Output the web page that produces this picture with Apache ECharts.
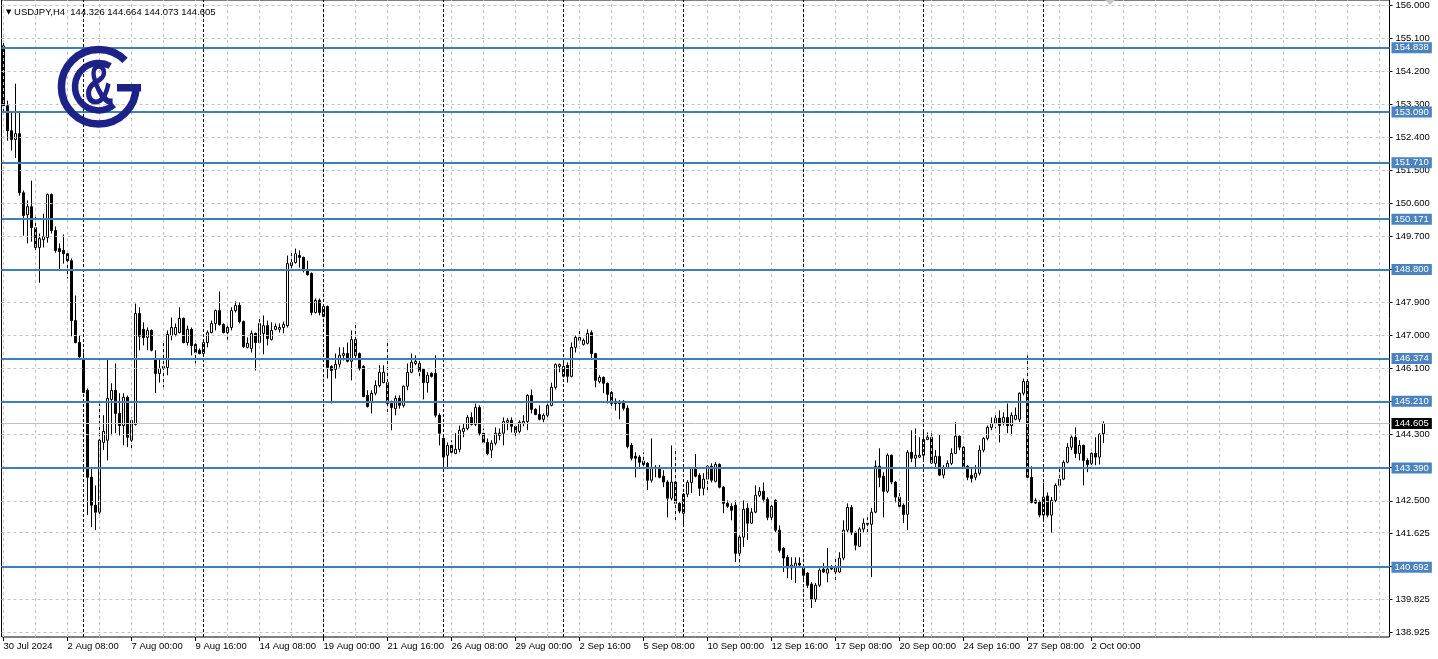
<!DOCTYPE html>
<html><head><meta charset="utf-8">
<script src="https://cdn.jsdelivr.net/npm/echarts@6/dist/echarts.min.js"></script>
<style>html,body{margin:0;padding:0;background:#fff}#c{width:1438px;height:659px}</style>
</head><body><div id="c"></div>
<script>
const SYMBOL = 'USDJPY,H4';
const X_TICK_LABELS = ['30 Jul 2024','2 Aug 08:00','7 Aug 00:00','9 Aug 16:00','14 Aug 08:00','19 Aug 00:00','21 Aug 16:00','26 Aug 08:00','29 Aug 00:00','2 Sep 16:00','5 Sep 08:00','10 Sep 00:00','12 Sep 16:00','17 Sep 08:00','20 Sep 00:00','24 Sep 16:00','27 Sep 08:00','2 Oct 00:00'];
const Y_TICK_LABELS = ['156.000','155.100','154.200','153.300','152.400','151.500','150.600','149.700','148.800','147.900','147.000','146.100','145.200','144.300','143.400','142.500','141.625','140.725','139.825','138.925'];
const LEVELS = [154.838, 153.090, 151.710, 150.171, 148.800, 146.374, 145.210, 143.390, 140.692];
const WEEK_START_BARS = [20, 50, 80, 110, 140, 170, 200, 230, 260];

const OPEN = [154.89,153.26,152.58,152.34,152.50,150.89,150.29,150.51,149.94,149.40,149.61,149.67,150.84,149.86,149.37,149.32,149.23,149.04,147.41,146.81,
146.38,145.51,143.14,142.38,142.19,144.09,144.15,145.26,145.51,144.88,144.55,145.32,144.15,144.58,147.60,147.17,146.95,147.14,146.38,145.97,
146.11,146.13,147.00,147.03,147.08,147.47,146.81,147.17,146.76,146.60,146.51,146.81,147.08,147.33,147.68,147.30,147.08,147.22,147.68,147.82,
147.38,146.68,146.65,147.06,146.81,147.06,147.27,146.89,147.17,147.17,147.22,147.27,148.91,148.99,149.18,149.13,148.80,148.69,147.63,147.96,
147.52,147.79,146.16,146.08,146.22,146.46,146.51,146.30,146.89,146.51,146.16,145.37,145.18,145.43,145.64,145.72,145.72,145.15,145.01,145.29,
145.10,145.62,146.00,146.24,146.24,146.08,145.72,145.97,145.97,144.83,144.20,143.74,144.01,143.79,143.90,144.39,144.47,144.77,144.58,145.04,
144.34,144.09,143.88,144.07,144.28,144.34,144.64,144.69,144.53,144.39,144.61,144.66,145.37,144.99,144.85,144.72,144.83,145.10,145.59,146.16,
145.89,146.19,145.89,146.68,146.87,146.76,146.79,147.08,146.51,145.75,145.86,145.70,145.45,145.21,145.21,145.21,145.02,144.01,143.71,143.69,
143.58,143.52,143.06,143.41,143.41,143.17,143.01,142.57,143.01,142.43,142.16,142.68,143.00,143.39,143.19,142.84,143.09,143.44,143.03,143.49,
142.87,142.43,142.35,142.38,141.07,141.51,142.30,141.89,142.19,142.65,142.76,142.54,142.05,142.51,141.70,141.21,140.96,140.67,140.69,140.80,
140.69,140.53,140.23,139.82,140.20,140.64,140.53,140.66,140.56,140.56,140.94,141.70,142.32,141.64,141.26,141.73,141.86,141.86,142.19,143.44,
143.17,142.76,143.74,143.01,142.60,142.38,142.13,143.82,143.66,143.69,143.74,144.17,144.23,143.52,143.71,143.20,143.39,143.52,143.79,144.26,
143.96,143.44,143.19,143.14,143.25,143.88,144.20,144.50,144.61,144.75,144.64,144.77,144.55,144.72,144.72,145.43,145.75,143.14,142.51,142.46,
142.11,142.63,142.11,142.51,142.92,143.09,143.55,143.96,144.23,143.79,144.01,143.60,143.52,143.79,143.69,144.326];
const HIGH = [154.97,153.40,153.07,153.86,153.12,150.95,150.68,151.22,150.27,149.78,150.32,150.87,150.87,149.97,149.51,149.75,149.29,149.10,148.09,147.00,
146.54,145.56,143.41,142.92,145.15,144.83,146.38,145.70,146.24,145.43,145.43,145.37,144.77,147.87,147.77,147.36,147.22,147.17,146.60,146.38,
146.87,147.14,147.49,147.33,147.77,147.49,147.27,147.22,146.79,146.65,146.87,147.14,147.41,147.71,148.20,147.33,147.27,147.77,147.93,147.90,
147.41,146.95,147.14,147.08,147.47,147.55,147.41,147.36,147.33,147.33,147.38,149.18,149.32,149.37,149.32,149.15,149.04,148.72,148.01,148.01,
147.82,147.82,146.19,146.51,146.68,146.68,146.81,147.14,147.30,146.54,146.19,145.51,145.51,145.78,146.19,146.19,146.89,145.23,145.37,145.37,
145.64,146.24,146.51,146.46,146.32,146.11,146.00,146.00,146.46,144.88,144.23,144.09,144.15,144.34,144.55,144.61,144.83,144.91,145.15,145.10,
144.47,144.20,144.15,144.50,144.47,144.77,144.75,144.77,144.55,144.69,144.83,145.40,145.53,145.02,145.10,144.88,145.15,145.72,146.24,146.24,
146.32,146.27,146.81,147.00,147.14,146.92,147.17,147.14,146.53,145.92,145.89,145.72,145.51,145.29,145.24,145.24,145.10,144.07,143.82,143.74,
143.82,143.55,144.20,143.47,143.47,143.33,143.06,144.01,143.93,142.46,142.71,143.06,143.41,143.77,143.25,143.25,143.47,143.52,143.55,143.52,
142.90,142.51,142.43,142.51,141.56,142.51,142.43,142.30,142.92,142.87,143.00,142.60,142.46,142.54,141.83,141.24,141.02,140.96,140.96,140.96,
140.75,140.56,140.28,140.26,140.66,140.80,141.21,140.75,140.96,141.10,141.97,142.43,142.38,141.67,141.78,142.02,142.05,142.30,143.60,143.93,
143.28,143.79,143.76,143.03,142.79,142.43,143.88,144.42,144.47,144.23,144.42,144.36,144.34,143.88,144.31,143.47,143.60,143.93,144.64,144.28,
143.98,143.47,143.39,143.47,144.01,144.23,144.55,144.77,144.83,144.96,144.91,145.15,144.91,145.04,145.45,145.83,146.46,143.44,142.57,142.51,
143.00,142.73,142.60,142.97,143.41,143.60,144.07,144.28,144.50,144.15,144.03,143.66,143.82,144.23,144.34,144.664];
const LOW = [153.07,152.31,152.04,151.84,150.81,149.72,149.51,149.56,149.26,148.44,149.40,149.53,149.78,149.26,148.80,148.96,148.55,146.98,146.79,146.38,
145.43,142.11,141.78,141.70,142.05,143.88,143.60,144.28,144.34,144.28,144.01,143.96,143.93,144.55,146.60,146.73,146.60,146.57,145.43,145.72,
145.59,145.92,146.87,146.98,147.06,146.79,146.73,146.46,146.24,146.49,146.49,146.68,147.06,147.14,147.27,147.06,146.89,147.14,147.63,147.33,
146.66,146.65,146.54,146.05,146.79,146.49,146.73,146.87,147.14,147.08,147.06,147.22,148.77,148.96,148.85,148.72,148.63,147.55,147.60,147.55,
147.47,145.83,145.15,145.83,146.13,146.32,146.27,145.78,146.38,146.05,145.32,145.04,144.88,145.37,145.59,145.70,144.88,144.42,144.83,145.01,
145.04,145.51,145.97,146.19,145.86,145.26,145.45,145.86,144.77,144.01,143.39,143.39,143.79,143.77,143.82,144.23,144.42,144.55,144.53,144.28,
144.07,143.74,143.66,144.01,144.15,144.01,144.42,144.36,144.23,144.34,144.53,144.42,144.88,144.83,144.69,144.64,144.77,145.07,145.53,146.00,
145.86,145.72,145.86,146.54,146.79,146.73,146.76,146.38,145.59,145.70,145.43,145.15,145.04,144.96,144.72,144.96,143.93,143.60,143.14,143.41,
143.41,142.79,143.00,143.14,143.11,142.87,142.05,142.51,141.92,142.16,141.78,142.60,142.71,143.14,142.63,142.65,142.79,143.00,143.00,142.84,
142.16,142.30,141.97,140.83,140.69,141.24,141.43,141.87,142.16,142.60,142.46,141.97,141.92,141.64,141.09,140.56,140.39,140.34,140.26,140.67,
140.34,140.12,139.58,139.74,140.15,140.53,140.28,140.61,140.28,140.53,140.88,141.64,141.57,141.15,141.24,141.64,141.64,140.42,142.16,142.87,
142.05,142.71,142.95,142.46,142.32,141.89,141.70,143.55,143.41,143.66,143.60,144.15,143.50,143.41,143.17,143.11,143.36,143.47,143.77,143.88,
143.39,143.06,143.00,143.06,143.19,143.82,144.15,144.42,144.47,144.09,144.55,144.34,144.28,144.69,144.64,145.37,143.06,142.43,142.41,142.05,
141.97,142.05,141.62,142.46,142.87,143.06,143.52,143.88,143.66,143.60,142.92,143.28,143.47,143.47,143.49,144.073];
const CLOSE = [153.26,152.58,152.34,152.50,150.89,150.27,150.51,149.94,149.40,149.64,149.70,150.84,149.86,149.32,149.29,149.23,149.04,147.41,146.81,146.43,
145.45,143.14,142.38,142.19,144.15,144.39,145.29,145.51,144.88,144.55,145.32,144.23,144.69,147.60,146.98,146.95,147.14,146.60,145.97,146.11,
146.16,147.03,147.22,147.22,147.47,146.81,147.17,146.73,146.54,146.51,146.81,147.08,147.33,147.68,147.30,147.08,147.22,147.68,147.82,147.38,
146.70,146.79,147.06,146.81,147.33,147.27,146.92,147.14,147.25,147.22,147.30,148.96,148.99,149.23,149.13,148.80,148.66,147.63,147.96,147.63,
147.79,146.13,146.05,146.22,146.46,146.51,146.30,146.89,146.46,146.11,145.34,145.07,145.43,145.64,146.00,146.00,145.15,145.04,145.29,145.10,
145.62,146.00,146.27,146.30,146.02,145.72,145.92,145.89,144.83,144.34,143.69,144.01,143.82,143.90,144.42,144.47,144.77,144.58,145.04,144.34,
144.09,143.79,144.07,144.34,144.34,144.66,144.69,144.53,144.36,144.64,144.66,145.37,144.99,144.85,144.72,144.83,145.10,145.59,146.21,146.21,
146.16,145.89,146.68,146.95,146.95,146.87,147.06,146.51,145.78,145.86,145.70,145.40,145.15,145.15,145.15,145.02,143.98,143.66,143.66,143.55,
143.49,143.06,143.41,143.39,143.14,143.01,142.57,143.01,142.43,142.22,142.68,143.00,143.39,143.17,142.84,143.09,143.44,143.06,143.49,142.87,
142.43,142.35,142.24,141.07,141.51,142.27,141.89,142.19,142.65,142.76,142.54,142.05,142.35,141.70,141.15,140.94,140.67,140.75,140.80,140.75,
140.47,140.20,139.82,140.20,140.61,140.56,140.64,140.64,140.69,140.94,141.70,142.32,141.64,141.29,141.73,141.89,141.89,142.19,143.44,143.14,
142.76,143.74,143.01,142.60,142.35,142.13,143.82,143.66,143.74,143.74,144.17,144.23,143.53,143.71,143.20,143.39,143.52,143.79,144.26,143.96,
143.41,143.14,143.11,143.25,143.88,144.20,144.50,144.61,144.75,144.55,144.77,144.55,144.83,144.83,145.43,145.75,143.14,142.46,142.44,142.11,
142.60,142.11,142.51,142.92,143.09,143.55,143.96,144.23,143.79,144.01,143.60,143.49,143.79,143.69,144.31,144.605];

const TOTAL_SLOTS = 347;
const BARS_PER_LABEL = 16;
const BARS_PER_GRID = 8;
const FONT = '"Liberation Sans", Arial, sans-serif';
const FS = 9.5;
const NAVY = '#1c2287';
const LEVEL_BLUE = '#3d7ebd';

const cats = Array.from({length: TOTAL_SLOTS}, (_, i) => String(i));
const candles = OPEN.map((o, i) => [o, CLOSE[i], LOW[i], HIGH[i]]);
const last = OPEN.length - 1;
const yTickValues = Y_TICK_LABELS.map(Number);
const labelAt = i => i % BARS_PER_LABEL === 0 && (i / BARS_PER_LABEL) < X_TICK_LABELS.length;
const vGrid = [];
for (let i = 0; i < TOTAL_SLOTS; i += BARS_PER_GRID) vGrid.push({xAxis: i});

const chart = echarts.init(document.getElementById('c'), null, {renderer: 'canvas'});
chart.setOption({
  animation: false,
  backgroundColor: '#ffffff',
  textStyle: {fontFamily: FONT},
  title: {
    text: '{t|▼} ' + SYMBOL + '  ' + [OPEN[last], HIGH[last], LOW[last], CLOSE[last]].map(v => v.toFixed(3)).join(' '),
    left: 1, top: 2,
    textStyle: {fontSize: FS, fontWeight: 'normal', color: '#000', fontFamily: FONT,
      rich: {t: {fontSize: 7, color: '#000', fontFamily: 'DejaVu Sans'}}}
  },
  grid: {left: 1.5, right: 48.5, top: -1, bottom: 22, show: true, borderColor: '#000', borderWidth: 1, backgroundColor: 'transparent'},
  xAxis: {
    type: 'category', data: cats, boundaryGap: true,
    axisLine: {show: false},
    axisTick: {show: true, alignWithLabel: true, interval: labelAt, length: 4, lineStyle: {color: '#000'}},
    axisLabel: {interval: labelAt, formatter: (v, i) => X_TICK_LABELS[i / BARS_PER_LABEL] || '',
      align: 'left', margin: 4, fontSize: FS, color: '#000', fontFamily: FONT},
    splitLine: {show: false}
  },
  yAxis: {
    type: 'value', position: 'right', min: 138.79, max: 156.14, scale: true,
    axisLine: {show: false},
    axisTick: {show: true, customValues: yTickValues, length: 3, lineStyle: {color: '#000'}},
    axisLabel: {customValues: yTickValues, formatter: v => v.toFixed(3), margin: 6, fontSize: FS, color: '#000', fontFamily: FONT},
    splitLine: {show: false}
  },
  series: [
    {type: 'line', data: [], z: 1, silent: true,
     markLine: {silent: true, symbol: 'none', animation: false, label: {show: false},
       lineStyle: {color: '#c4c4c4', type: [3, 3], width: 1},
       data: yTickValues.map(v => ({yAxis: v})).concat(vGrid)}},
    {type: 'line', data: [], z: 2, silent: true,
     markLine: {silent: true, symbol: 'none', animation: false, label: {show: false},
       lineStyle: {color: '#000', type: [3, 2], width: 1},
       data: WEEK_START_BARS.map(i => ({xAxis: i}))}},
    {type: 'line', data: [], z: 3, silent: true,
     markLine: {silent: true, symbol: 'none', animation: false, precision: 3,
       lineStyle: {color: '#c0c0c0', type: 'solid', width: 1},
       label: {show: true, position: 'end', distance: 2, formatter: p => Number(p.value).toFixed(3), color: '#fff',
         backgroundColor: '#000', padding: [1, 3, 0, 3], fontSize: FS, fontFamily: FONT},
       data: [{yAxis: CLOSE[last]}]}},
    {type: 'candlestick', data: candles, z: 4, barWidth: 2,
     itemStyle: {color: '#ffffff', color0: '#000000', borderColor: '#000000', borderColor0: '#000000', borderWidth: 1}},
    {type: 'line', data: [], z: 5, silent: true,
     markLine: {silent: true, symbol: 'none', animation: false, precision: 3,
       lineStyle: {color: LEVEL_BLUE, type: 'solid', width: 2},
       label: {show: true, position: 'end', distance: 2, formatter: p => Number(p.value).toFixed(3), color: '#fff',
         backgroundColor: '#4a83bd', padding: [1, 3, 0, 3], fontSize: FS, fontFamily: FONT},
       data: LEVELS.map(v => ({yAxis: v}))}}
  ],
  graphic: [
    {type: 'polygon', shape: {points: [[1105, 0], [1115, 0], [1110, 5]]}, style: {fill: '#c8c8c8'}, z: 20},
    {type: 'arc', shape: {cx: 98.7, cy: 86.7, r: 37.3, startAngle: 0, endAngle: Math.PI * 7 / 4, clockwise: true},
     style: {stroke: NAVY, lineWidth: 7.5, fill: 'none'}, z: 20},
    {type: 'rect', shape: {x: 117, y: 84, width: 24, height: 7.5}, style: {fill: NAVY}, z: 20},
    {type: 'arc', shape: {cx: 98.7, cy: 86.7, r: 23.7, startAngle: 50 * Math.PI / 180, endAngle: 299 * Math.PI / 180, clockwise: true},
     style: {stroke: NAVY, lineWidth: 6.5, fill: 'none'}, z: 20},
    {type: 'text', x: 99, y: 88, scaleX: 0.72, z: 20,
     style: {text: '&', fontSize: 57, fontWeight: 'bold', fontFamily: FONT, fill: NAVY, align: 'center', verticalAlign: 'middle'}}
  ]
});
</script></body></html>
